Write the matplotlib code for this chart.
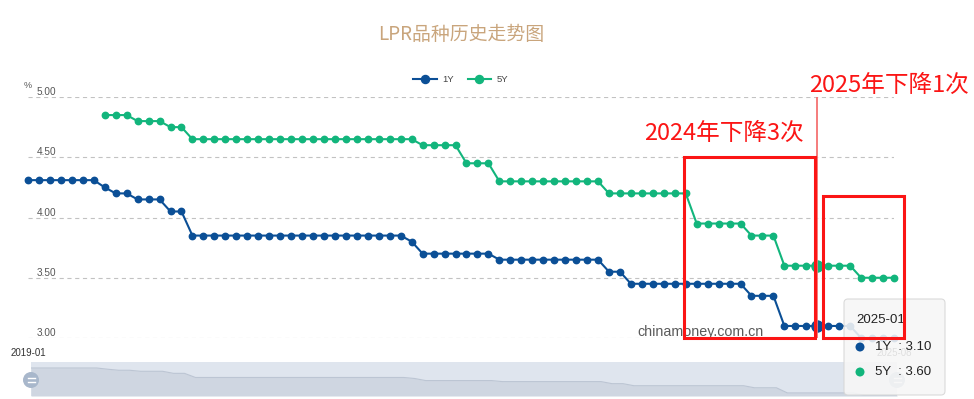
import numpy as np
import pandas as pd
import matplotlib
matplotlib.use("Agg")
import matplotlib.pyplot as plt
from matplotlib.patches import Rectangle, FancyBboxPatch, Circle
from matplotlib.lines import Line2D

plt.rcParams['lines.scale_dashes'] = False

# ---------------- data ----------------
months = [p.strftime('%Y-%m') for p in pd.period_range('2019-01', '2025-08', freq='M')]

lpr_1y = [4.31, 4.31, 4.31, 4.31, 4.31, 4.31, 4.31, 4.25, 4.20, 4.20, 4.15, 4.15,   # 2019
          4.15, 4.05, 4.05, 3.85, 3.85, 3.85, 3.85, 3.85, 3.85, 3.85, 3.85, 3.85,   # 2020
          3.85, 3.85, 3.85, 3.85, 3.85, 3.85, 3.85, 3.85, 3.85, 3.85, 3.85, 3.80,   # 2021
          3.70, 3.70, 3.70, 3.70, 3.70, 3.70, 3.70, 3.65, 3.65, 3.65, 3.65, 3.65,   # 2022
          3.65, 3.65, 3.65, 3.65, 3.65, 3.55, 3.55, 3.45, 3.45, 3.45, 3.45, 3.45,   # 2023
          3.45, 3.45, 3.45, 3.45, 3.45, 3.45, 3.35, 3.35, 3.35, 3.10, 3.10, 3.10,   # 2024
          3.10, 3.10, 3.10, 3.10, 3.00, 3.00, 3.00, 3.00]                           # 2025

nan = np.nan
lpr_5y = [nan, nan, nan, nan, nan, nan, nan, 4.85, 4.85, 4.85, 4.80, 4.80,          # 2019
          4.80, 4.75, 4.75, 4.65, 4.65, 4.65, 4.65, 4.65, 4.65, 4.65, 4.65, 4.65,   # 2020
          4.65, 4.65, 4.65, 4.65, 4.65, 4.65, 4.65, 4.65, 4.65, 4.65, 4.65, 4.65,   # 2021
          4.60, 4.60, 4.60, 4.60, 4.45, 4.45, 4.45, 4.30, 4.30, 4.30, 4.30, 4.30,   # 2022
          4.30, 4.30, 4.30, 4.30, 4.30, 4.20, 4.20, 4.20, 4.20, 4.20, 4.20, 4.20,   # 2023
          4.20, 3.95, 3.95, 3.95, 3.95, 3.95, 3.85, 3.85, 3.85, 3.60, 3.60, 3.60,   # 2024
          3.60, 3.60, 3.60, 3.60, 3.50, 3.50, 3.50, 3.50]                           # 2025

series_names = ['1Y', '5Y']
series_colors = ['#0b4f96', '#12b57c']
y_ticks = [3.00, 3.50, 4.00, 4.50, 5.00]
x_tick_months = [months[0], months[-1]]
highlight_month = '2025-01'
title = 'LPR品种历史走势图'
unit = '%'
watermark = 'chinamoney.com.cn'
annotations = [
    # (first month, last month, low, high, label)
    ('2024-01', '2024-12', 3.00, 4.50, '2024年下降3次'),
    ('2025-01', '2025-08', 3.00, 4.18, '2025年下降1次'),
]

# ---------------- figure ----------------
W, H = 974, 399
fig = plt.figure(figsize=(W / 100, H / 100), dpi=100)
fig.patch.set_facecolor('white')
CJK = ['Noto Sans CJK SC', 'DejaVu Sans']
LAT = ['Liberation Sans', 'DejaVu Sans']


def P(x, y):
    return (x / W, 1 - y / H)


def inch(x, y):
    return (x / 100, (H - y) / 100)


ax = fig.add_axes([28 / W, 1 - 338 / H, (894 - 28) / W, (338 - 97) / H])
xi = np.arange(len(months))
ax.set_xlim(0, len(months) - 1)
ax.set_ylim(y_ticks[0], y_ticks[-1])
for s in ax.spines.values():
    s.set_visible(False)
ax.set_yticks(y_ticks)
ax.yaxis.grid(True, color='#c2c2c2', lw=0.8, linestyle=(0, (3, 2.6)))
ax.tick_params(axis='y', length=0, labelleft=False)
for v in y_ticks:
    ax.annotate(f'{v:.2f}', xy=(0, v), xycoords=('axes fraction', 'data'),
                xytext=(9, 0), textcoords='offset pixels', ha='left', va='bottom',
                fontsize=7.2, color='#555555', family=LAT)
ax.set_xticks([months.index(m) for m in x_tick_months])
ax.set_xticklabels(x_tick_months, family=LAT)
ax.tick_params(axis='x', length=0, pad=7, labelsize=7, labelcolor='#333333')

hi = months.index(highlight_month)
for name, vals, col in zip(series_names, [lpr_1y, lpr_5y], series_colors):
    ax.plot(xi, vals, color=col, lw=1.5, marker='o', ms=4.6, zorder=3, clip_on=False, label=name)
    ax.plot([hi], [vals[hi]], 'o', color=col, ms=8, zorder=4, clip_on=False)

# axis pointer
ax.axvline(hi, color='#f47272', lw=1.3, zorder=5)

# legend
handles = [Line2D([], [], color=c, lw=1.5, marker='o', ms=5.8) for c in series_colors]
fig.legend(handles, series_names, loc='center', bbox_to_anchor=P(461, 80), ncol=2,
           frameon=False, prop={'family': LAT, 'size': 6.8}, labelcolor='#444444',
           handlelength=2.5, handletextpad=0.6, columnspacing=1.4, borderpad=0)

# title / unit
fig.text(*P(461.5, 34), title, ha='center', va='center', fontsize=13.6,
         color='#c9a57c', family=CJK)
fig.text(*P(28, 85), unit, ha='center', va='center', fontsize=6.5, color='#555555', family=LAT)

# watermark
fig.text(*P(700, 332), watermark, ha='center', va='center', fontsize=10.3,
         color='#5a5a5a', family=LAT, zorder=1.5)

# ---------------- data zoom slider ----------------
ax2 = fig.add_axes([31 / W, 1 - 396 / H, (897 - 31) / W, 34 / H])
ax2.set_facecolor('#dfe5ee')
ax2.set_xlim(0, len(months) - 1)
ax2.set_ylim(2.951, 4.601)
ax2.fill_between(xi, lpr_1y, 2.951, color='#cfd6e1', lw=0)
ax2.plot(xi, lpr_1y, color='#bcc5d3', lw=0.8)
ax2.set_xticks([])
ax2.set_yticks([])
for s in ax2.spines.values():
    s.set_visible(False)
for hx in (31, 897):
    fig.add_artist(Circle(inch(hx, 380), 0.08, transform=fig.dpi_scale_trans,
                          fc='#a8b7cb', ec='none', zorder=1))
    for dy in (-1.8, 1.8):
        fig.add_artist(Line2D([(hx - 3.5) / 100, (hx + 3.5) / 100],
                              [(H - 380 - dy) / 100] * 2, color='white', lw=1,
                              transform=fig.dpi_scale_trans, zorder=1.1))

# ---------------- tooltip ----------------
tip = FancyBboxPatch((8.44, 0.04), 1.01, 0.96, boxstyle='round,pad=0,rounding_size=0.04',
                     transform=fig.dpi_scale_trans, fc='#f7f7f7', ec='#d6d6d6', lw=0.8,
                     alpha=0.88, zorder=2)
fig.add_artist(tip)
fig.text(*P(856, 320), months[hi], ha='left', va='center', fontsize=9.5,
         color='#222222', family=LAT, zorder=3)
for k, (name, vals, col) in enumerate(zip(series_names, [lpr_1y, lpr_5y], series_colors)):
    yy = 347 + 25 * k
    fig.add_artist(Circle(inch(860, yy), 0.045, transform=fig.dpi_scale_trans,
                          fc=col, ec='none', zorder=3))
    fig.text(*P(875, yy), f'{name}  : {vals[hi]:.2f}', ha='left', va='center',
             fontsize=9.5, color='#222222', family=LAT, zorder=3)

# ---------------- red annotations ----------------
pad_l = [-0.15, 0.55]
pad_r = [0.8, 0.9]
text_pos = [(724, 133), (889, 85)]
for (m0, m1, lo, hi_v, label), pl, pr, tp in zip(annotations, pad_l, pad_r, text_pos):
    x0 = months.index(m0) + pl
    x1 = months.index(m1) + pr
    rect = Rectangle((x0, lo), x1 - x0, hi_v - lo, fill=False, ec='#fb1515', lw=2.2,
                     transform=ax.transData, zorder=6, clip_on=False)
    fig.add_artist(rect)
    fig.text(*P(*tp), label, ha='center', va='center', fontsize=17, color='#fb1515',
             family=CJK, zorder=6)

fig.savefig('out.png', dpi=100, facecolor='white')
